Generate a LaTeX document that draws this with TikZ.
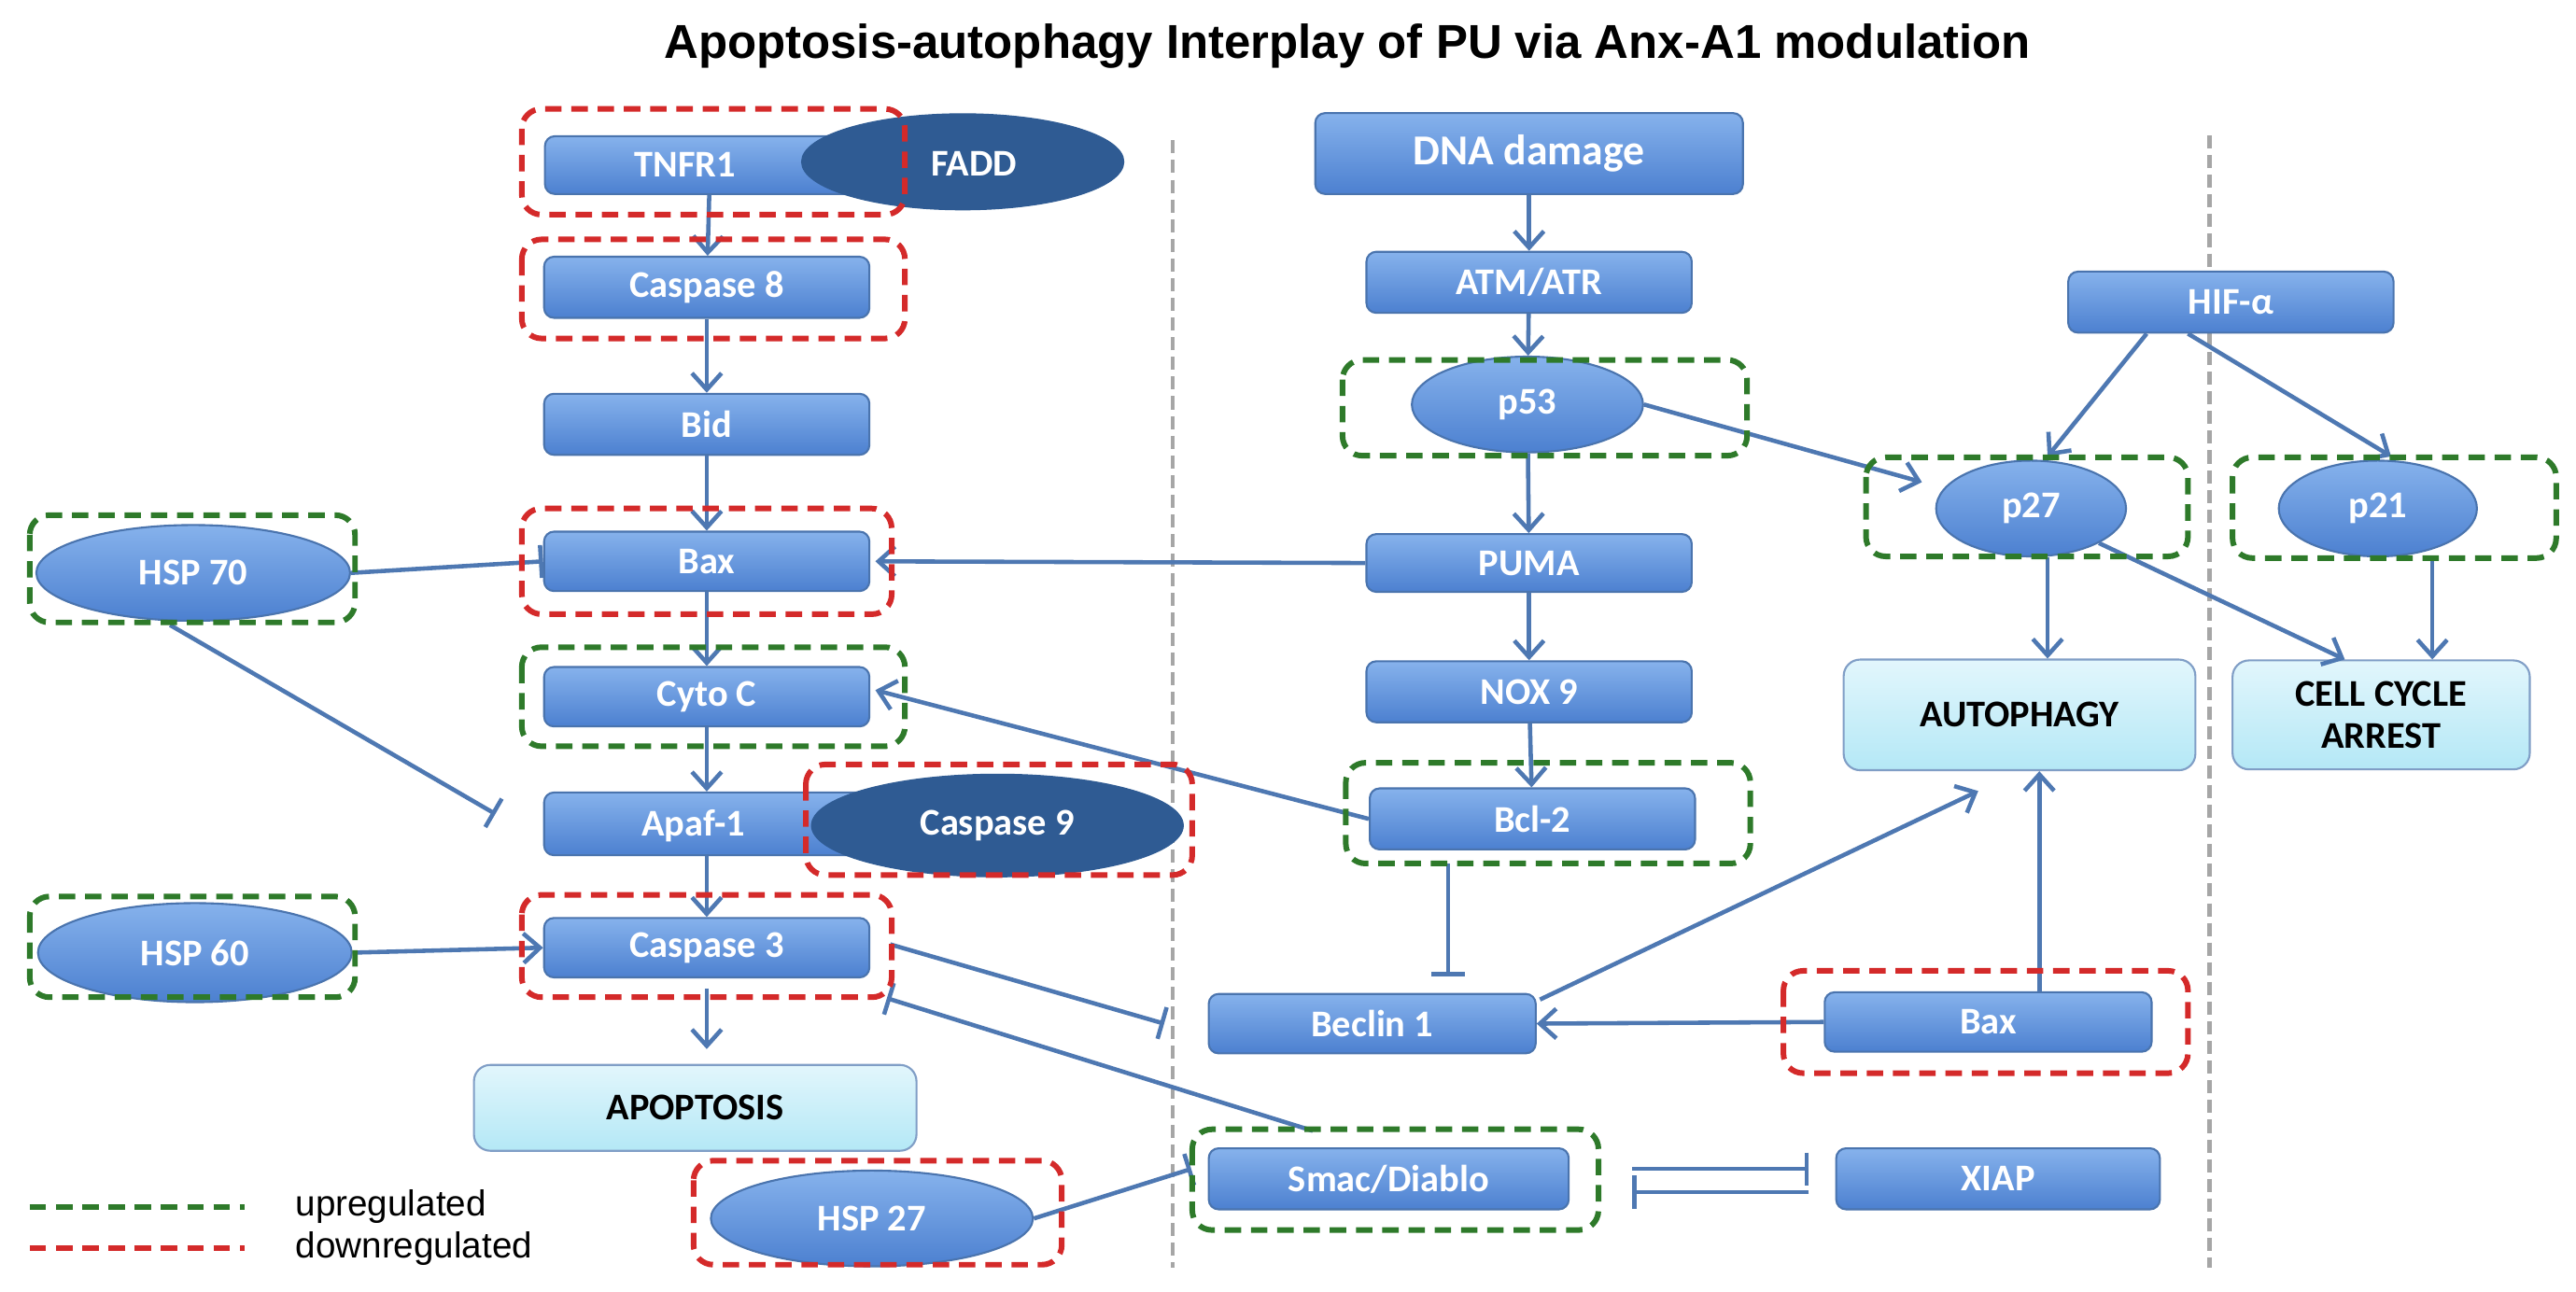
\documentclass[tikz,border=0pt]{standalone}
\usepackage{fontspec}
\setmainfont{Carlito}
\newfontfamily\arialf{Liberation Sans}
\usetikzlibrary{shapes.geometric,arrows.meta,calc}
\newlength\U \setlength\U{0.01769cm}
\definecolor{bfill1}{HTML}{86B2EC}
\definecolor{bfill2}{HTML}{4C80D0}
\definecolor{bdraw}{HTML}{4A74AE}
\definecolor{dfill}{HTML}{2F5B93}
\definecolor{lfill1}{HTML}{E2F6FC}
\definecolor{lfill2}{HTML}{B4E8F6}
\definecolor{edge}{HTML}{4E78B2}
\definecolor{upg}{HTML}{2E7A2A}
\definecolor{dnr}{HTML}{D42A2A}
\tikzset{
 box/.style={rectangle,rounded corners=3pt,draw=bdraw,line width=0.6pt,top color=bfill1,bottom color=bfill2,text=white,font=\fontsize{11.5}{13}\selectfont\bfseries,inner sep=0pt},
 oval/.style={ellipse,draw=bdraw,line width=0.6pt,top color=bfill1,bottom color=bfill2,text=white,font=\fontsize{11.5}{13}\selectfont\bfseries,inner sep=0pt},
 doval/.style={ellipse,draw=dfill,fill=dfill,text=white,font=\fontsize{11.5}{13}\selectfont\bfseries,inner sep=0pt},
 res/.style={rectangle,rounded corners=5pt,draw=bdraw!70,line width=0.6pt,top color=lfill1,bottom color=lfill2,text=black,font=\fontsize{11.5}{13}\selectfont\bfseries,align=center,inner sep=0pt},
 up/.style={draw=upg,line width=1.7pt,dash pattern=on 5pt off 3pt,rounded corners=6pt},
 dn/.style={draw=dnr,line width=1.7pt,dash pattern=on 5pt off 3pt,rounded corners=6pt},
 act/.style={draw=edge,line width=1.3pt,-{Straight Barb[length=5pt,width=9pt]}},
 inh/.style={draw=edge,line width=1.3pt,-{Bar[width=10pt]}},
 sep/.style={draw=gray!70,line width=1.2pt,dash pattern=on 4pt off 2pt},
 lbl/.style={text=white,font=\fontsize{11.5}{13}\selectfont\bfseries},
}
\begin{document}
\begin{tikzpicture}[x=0.01769cm,y=-0.01769cm]
\useasboundingbox (0,0) rectangle (1560,782);
\fill[white] (0,0) rectangle (1560,782);
\node[font=\arialf\bfseries\fontsize{14.5}{16}\selectfont] (title) at (816,28) {Apoptosis-autophagy Interplay of PU via Anx-A1 modulation};
% separators
\draw[sep] (710,85) -- (710,768);
\draw[sep] (1338,82) -- (1338,768);
% left column
\node[box,minimum width={200*\U},minimum height={35*\U}] (tnfr1) at (430,100) {};
\node[doval,minimum width={195*\U},minimum height={58*\U}] (fadd) at (583,98) {};
\node[lbl] (tnfr1l) at (415,100) {TNFR1};
\node[lbl] (faddl) at (590,99) {FADD};
\node[box,minimum width={197*\U},minimum height={37*\U}] (casp8) at (428,174) {Caspase 8};
\node[box,minimum width={197*\U},minimum height={37*\U}] (bid) at (428,257) {Bid};
\node[box,minimum width={197*\U},minimum height={36*\U}] (bax) at (428,340) {Bax};
\node[oval,minimum width={190*\U},minimum height={58*\U}] (hsp70) at (117,347) {HSP 70};
\node[box,minimum width={197*\U},minimum height={36*\U}] (cytoc) at (428,422) {Cyto C};
\node[box,minimum width={197*\U},minimum height={38*\U}] (apaf1) at (428,499) {};
\node[doval,minimum width={225*\U},minimum height={62*\U}] (casp9) at (604,500) {Caspase 9};
\node[lbl] (apaf1l) at (420,500) {Apaf-1};
\node[box,minimum width={197*\U},minimum height={36*\U}] (casp3) at (428,574) {Caspase 3};
\node[oval,minimum width={190*\U},minimum height={60*\U}] (hsp60) at (118,577) {HSP 60};
\node[res,minimum width={268*\U},minimum height={52*\U}] (apop) at (421,671) {APOPTOSIS};
\node[oval,minimum width={195*\U},minimum height={58*\U}] (hsp27) at (528,738) {HSP 27};
% middle column
\node[box,minimum width={259*\U},minimum height={49*\U}] (dna) at (926,93) {\fontsize{13}{15}\selectfont DNA damage};
\node[box,minimum width={197*\U},minimum height={37*\U}] (atm) at (926,171) {ATM/ATR};
\node[oval,minimum width={140*\U},minimum height={58*\U}] (p53) at (925,245) {p53};
\node[box,minimum width={197*\U},minimum height={35*\U}] (puma) at (926,341) {PUMA};
\node[box,minimum width={197*\U},minimum height={37*\U}] (nox9) at (926,419) {NOX 9};
\node[box,minimum width={197*\U},minimum height={37*\U}] (bcl2) at (928,496) {Bcl-2};
\node[box,minimum width={198*\U},minimum height={36*\U}] (beclin) at (831,620) {Beclin 1};
\node[box,minimum width={218*\U},minimum height={37*\U}] (smac) at (841,714) {Smac/Diablo};
\node[box,minimum width={196*\U},minimum height={37*\U}] (xiap) at (1210,714) {XIAP};
\node[box,minimum width={198*\U},minimum height={36*\U}] (bax2) at (1204,619) {Bax};
\node[res,minimum width={213*\U},minimum height={67*\U}] (auto) at (1223,433) {AUTOPHAGY};
% right
\node[box,minimum width={197*\U},minimum height={37*\U}] (hif) at (1351,183) {HIF-α};
\node[oval,minimum width={115*\U},minimum height={58*\U}] (p27) at (1230,308) {p27};
\node[oval,minimum width={120*\U},minimum height={58*\U}] (p21) at (1440,308) {p21};
\node[res,minimum width={180*\U},minimum height={66*\U}] (cca) at (1442,433) {CELL CYCLE\\ARREST};
% connectors
\draw[act] (tnfr1) -- (casp8);
\draw[act] (casp8) -- (bid);
\draw[act] (bid) -- (bax);
\draw[act] (bax) -- (cytoc);
\draw[act] (cytoc) -- (apaf1);
\draw[act] (apaf1) -- (casp3);
\draw[act] ($(casp3.south)+(0,6)$) -- ($(apop.north)+(7,-9)$);
\draw[inh] (hsp70.east) -- (bax.west);
\coordinate (apafin) at (300,493);
\draw[inh] ($(hsp70.south)+(-14,2)$) -- (apafin);
\draw[act] (hsp60.east) -- (casp3.west);
\draw[act] (puma.west) -- ($(bax.east)+(3,0)$);
\draw[act] (bcl2.west) -- ($(cytoc.east)+(3,-4)$);
\coordinate (becin) at (705,620);
\draw[inh] ($(casp3.east)+(12,-2)$) -- (becin);
\draw[inh] ($(smac.north)+(-46,-10)$) -- ($(casp3.south east)+(10,12)$);
\draw[inh] (hsp27.east) -- ($(smac.west)+(-10,-6)$);
\draw[inh] ($(smac.east)+(38,-6)$) -- ($(xiap.west)+(-16,-6)$);
\draw[inh] ($(xiap.west)+(-16,8)$) -- ($(smac.east)+(38,8)$);
\draw[act] (dna) -- (atm);
\draw[act] (atm) -- (p53);
\draw[act] (p53) -- (puma);
\draw[act] (puma) -- (nox9);
\draw[act] (nox9) -- (bcl2);
\draw[inh] ($(bcl2.south)+(-51,8)$) -- ($(beclin.north)+(46,-10)$);
\draw[act] ($(beclin.north east)+(2,4)$) -- ($(auto.south)+(-25,12)$);
\draw[act] (bax2.west) -- (beclin.east);
\draw[act] ($(bax2.north)+(31,0)$) -- ($(auto.south)+(12,0)$);
\draw[act] (p53.east) -- ($(p27.west)+(-8,-16)$);
\draw[act] ($(hif.south)+(-51,0)$) -- ($(p27.north)+(10,-2)$);
\draw[act] ($(hif.south)+(-26,0)$) -- ($(p21.north)+(8,-2)$);
\draw[act] ($(p27.south)+(10,0)$) -- ($(auto.north)+(17,0)$);
\draw[act] (p27.south east) -- ($(cca.north)+(-22,0)$);
\draw[act] ($(p21.south)+(33,0)$) -- ($(cca.north)+(31,0)$);
% dashed frames
\draw[dn] (316,66) rectangle (548,130);
\draw[dn] (316,145) rectangle (548,205);
\draw[dn] (316,308) rectangle (540,372);
\draw[up] (18,312) rectangle (215,377);
\draw[up] (316,392) rectangle (548,452);
\draw[dn] (488,463) rectangle (722,530);
\draw[dn] (316,542) rectangle (540,604);
\draw[up] (18,543) rectangle (215,604);
\draw[dn] (420,703) rectangle (643,766);
\draw[up] (813,218) rectangle (1058,276);
\draw[up] (815,462) rectangle (1060,523);
\draw[up] (722,684) rectangle (968,745);
\draw[dn] (1080,588) rectangle (1325,650);
\draw[up] (1130,277) rectangle (1325,337);
\draw[up] (1352,277) rectangle (1548,338);
% legend
\draw[up] (18,731) -- (148,731);
\draw[dn] (18,756) -- (148,756);
\node[anchor=west,font=\arialf\fontsize{11}{13}\selectfont] (lup) at (172,731) {upregulated};
\node[anchor=west,font=\arialf\fontsize{11}{13}\selectfont] (ldn) at (172,756) {downregulated};
\end{tikzpicture}
\end{document}
